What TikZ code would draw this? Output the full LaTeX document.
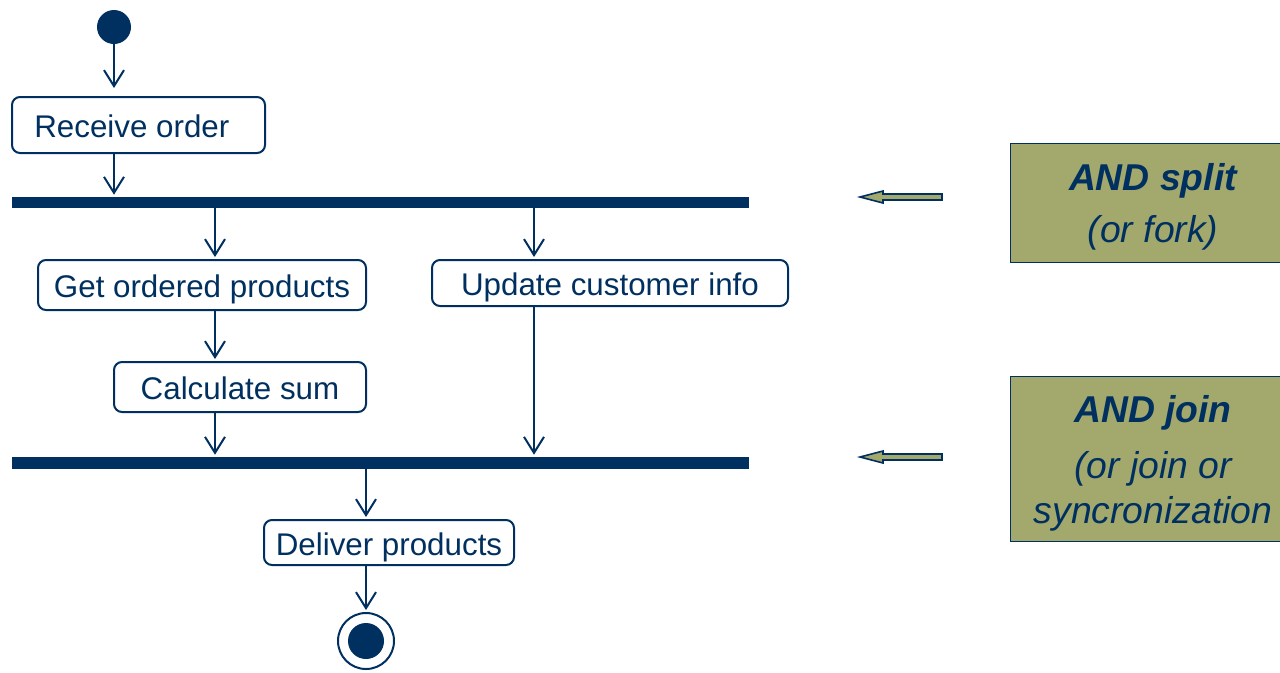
\documentclass[tikz,border=0pt]{standalone}
\usepackage{fontspec}
\setmainfont{Liberation Sans}
\usetikzlibrary{arrows.meta}

\definecolor{umlnavy}{RGB}{0,48,96}
\definecolor{noteolive}{RGB}{163,168,108}

\begin{document}
\begin{tikzpicture}[x=0.75pt,y=0.75pt,yscale=-1,xscale=1,
	activity/.style={draw=umlnavy, line width=1.5pt, rounded corners=6pt, fill=white, text=umlnavy, inner sep=0pt, text height=19pt, text depth=0pt, font=\fontsize{23.5}{28}\selectfont},
	syncbar/.style={fill=umlnavy, inner sep=0pt, minimum width=552.75pt},
	flow/.style={draw=umlnavy, line width=1.5pt, shorten >=1.5pt, -{Straight Barb[length=12pt,width=15pt]}},
	note/.style={draw=umlnavy, line width=0.75pt, fill=noteolive, text=umlnavy, align=center, inner sep=0pt, minimum width=214.5pt, font=\fontsize{28}{34}\selectfont\itshape},
	blockarrow/.style={draw=umlnavy, line width=1.2pt, fill=noteolive, line join=miter}
]
	\useasboundingbox (0,0) rectangle (1280,672);
	\clip (0,0) rectangle (1280,672);

	%Lanes of the vertical flows
	\coordinate (laneA) at (215,0);
	\coordinate (laneB) at (534,0);

	%Shape: Initial node
	\node [circle, fill=umlnavy, inner sep=0pt, minimum size=25.5pt] (start) at (114,27) {};
	%Shape: Final node
	\node [circle, draw=umlnavy, line width=1.5pt, inner sep=0pt, minimum size=42pt] (stop) at (366,641) {};
	\node [circle, fill=umlnavy, inner sep=0pt, minimum size=27pt] at (stop) {};

	%Shape: Actions
	\node [activity, minimum width=189.75pt, minimum height=42pt] (recv) at (138.5,125) {Receive order\hspace*{10pt}};
	\node [activity, minimum width=246pt, minimum height=37.5pt] (get) at (202,285) {Get ordered products};
	\node [activity, minimum width=267pt, minimum height=34.5pt] (upd) at (610,283) {Update customer info};
	\node [activity, minimum width=189pt, minimum height=37.5pt] (calc) at (240,387) {Calculate sum};
	\node [activity, minimum width=187.5pt, minimum height=33.75pt] (deliv) at (389,542.5) {Deliver products};

	%Shape: Fork and join bars
	\node [syncbar, minimum height=8.25pt] (fork) at (380.5,202.5) {};
	\node [syncbar, minimum height=9pt] (join) at (380.5,463) {};

	%Straight Lines
	\draw [flow, shorten >=6pt] (start) -- (start |- recv.north);
	\draw [flow] (recv.south -| start) -- (start |- fork.north);
	\draw [flow] (fork.south -| laneA) -- (laneA |- get.north);
	\draw [flow] (fork.south -| laneB) -- (laneB |- upd.north);
	\draw [flow] (get.south -| laneA) -- (laneA |- calc.north);
	\draw [flow] (calc.south -| laneA) -- (laneA |- join.north);
	\draw [flow] (upd.south -| laneB) -- (laneB |- join.north);
	\draw [flow] (join.south -| stop) -- (stop |- deliv.north);
	\draw [flow] (deliv.south -| stop) -- (stop);

	%Shape: Block arrows
	\foreach \y in {197,457}
		\draw [blockarrow] (942,\y-3) -- (883,\y-3) -- (883,\y-6) -- (860,\y) -- (883,\y+6) -- (883,\y+3) -- (942,\y+3) -- cycle;

	% Text Node
	\node [note, minimum height=89.25pt] (splitnote) at (1153,202.5) {\rule{0pt}{26.4pt}\textbf{AND split}\\[5pt](or fork)};
	% Text Node
	\node [note, minimum height=123.75pt] (joinnote) at (1153,458.5) {\rule{0pt}{28pt}\textbf{AND join}\\[8pt](or join or\\syncronization};

\end{tikzpicture}
\end{document}
